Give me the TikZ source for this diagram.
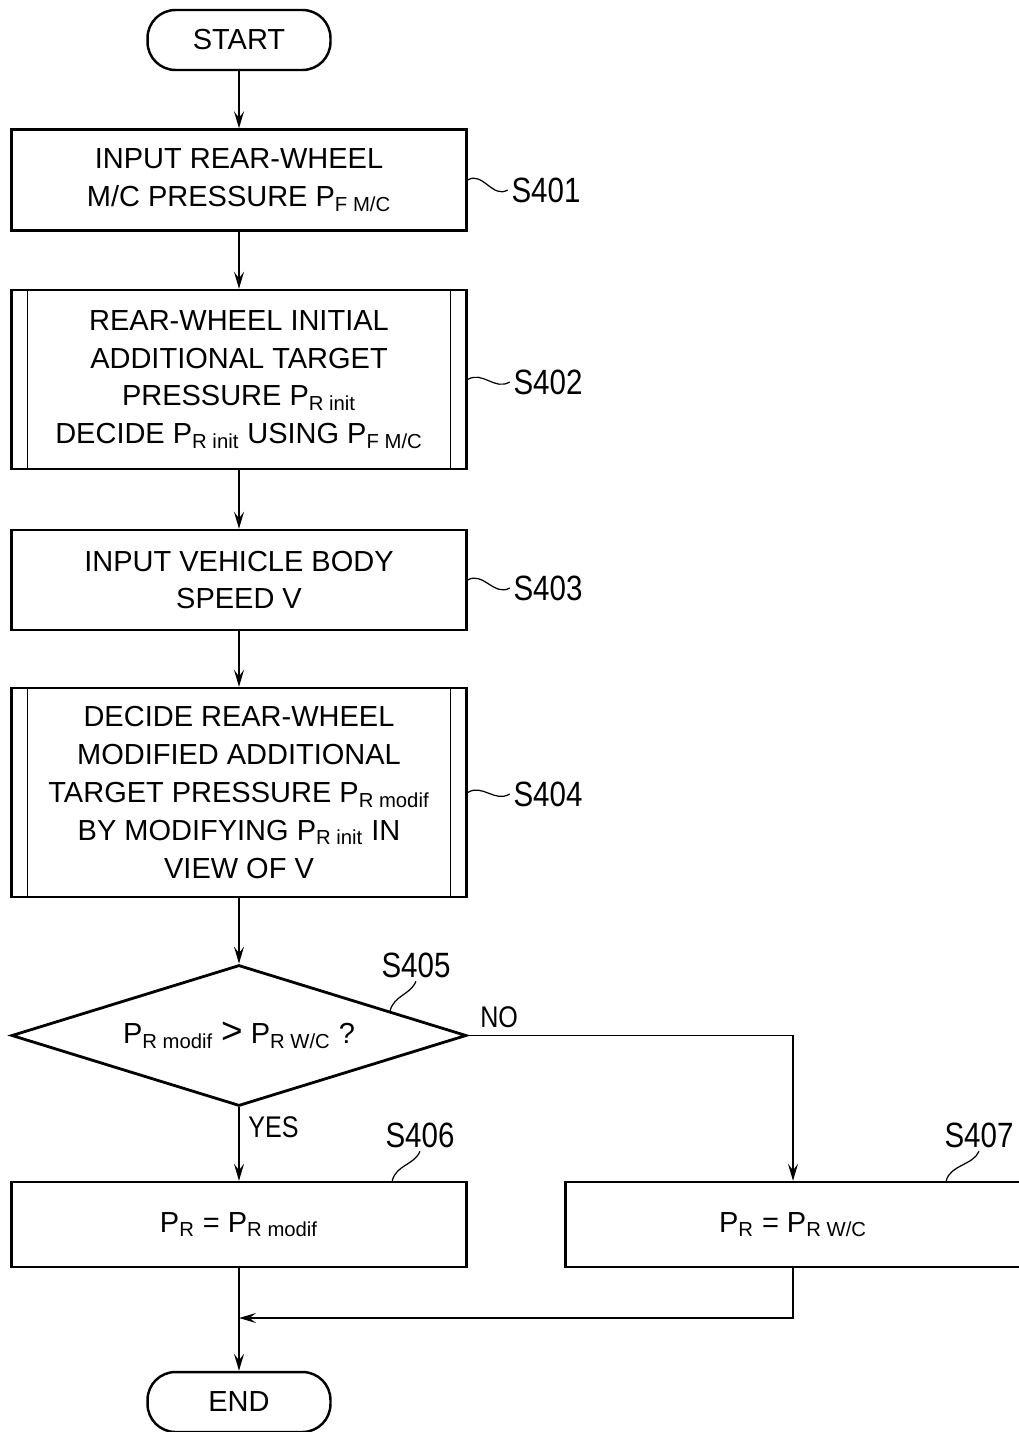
\documentclass[tikz,border=0pt]{standalone}
\usepackage{amsmath}
\usepackage{fontspec}
\setmainfont{Liberation Sans}
\newfontfamily\labfont[FakeStretch=0.84]{Liberation Sans}
\usetikzlibrary{arrows.meta,shapes.geometric,calc}
\newcommand\boxfont{\fontsize{16.5}{21.5}\selectfont}
\newcommand\sbs[1]{$_{\text{#1}}$}
\tikzset{
  base/.style={align=center, inner sep=0pt, font=\boxfont, text=black},
  term/.style={base, draw, line width=1.4pt, rounded corners=0.56cm, minimum width=3.66cm, minimum height=1.2cm},
  proc/.style={base, draw, line width=1.4pt, minimum width=9.1cm},
  subproc/.style={proc, path picture={
    \draw[line width=1pt] ([xshift=0.32cm]path picture bounding box.north west) -- ([xshift=0.32cm]path picture bounding box.south west)
      ([xshift=-0.32cm]path picture bounding box.north east) -- ([xshift=-0.32cm]path picture bounding box.south east);}},
  dec/.style={base, diamond, aspect=3.2, draw, line width=1.6pt, minimum width=9.1cm, minimum height=2.82cm},
  arr/.style={-{Stealth[length=3.4mm,width=2mm,inset=1.3mm]}, line width=0.8pt},
  stp/.style={font=\labfont\fontsize{20}{20}\selectfont, inner sep=2pt},
  yn/.style={font=\labfont\fontsize{17}{17}\selectfont, inner sep=0pt, anchor=west},
  squig/.style={line width=0.7pt},
}
\begin{document}
\begin{tikzpicture}[x=0.02cm, y=-0.02cm]
    \useasboundingbox (0,0) rectangle (1018,1432);
    \node[term] (start) at (239,40) {START};
    \node[proc, minimum height=2.02cm] (s401) at (239,180) {INPUT REAR-WHEEL\\M/C PRESSURE P\sbs{F M/C}};
    \node[subproc, minimum height=3.58cm] (s402) at (239,379.5) {REAR-WHEEL INITIAL\\ADDITIONAL TARGET\\PRESSURE P\sbs{R init}\\DECIDE P\sbs{R init} USING P\sbs{F M/C}};
    \node[proc, minimum height=2cm] (s403) at (239,580) {INPUT VEHICLE BODY\\SPEED V};
    \node[subproc, minimum height=4.18cm] (s404) at (239,792.5) {DECIDE REAR-WHEEL\\MODIFIED ADDITIONAL\\TARGET PRESSURE P\sbs{R modif}\\BY MODIFYING P\sbs{R init} IN\\VIEW OF V};
    \node[dec] (s405) at (239,1035.5) {P\sbs{R modif} {\fontsize{21}{21}\selectfont>} P\sbs{R W/C} ?};
    \node[proc, minimum height=1.7cm] (s406) at (239,1224.5) {P\sbs{R} = P\sbs{R modif}};
    \node[proc, minimum height=1.7cm] (s407) at (793,1224.5) {P\sbs{R} = P\sbs{R W/C}};
    \node[term] (end) at (239,1402) {END};
    \coordinate (mrg) at (239,1318);
    % step numbers
    \node[stp] (l401) at (546,190) {S401};
    \node[stp] (l402) at (548,382) {S402};
    \node[stp] (l403) at (548,588) {S403};
    \node[stp] (l404) at (548,794) {S404};
    \node[stp] (l405) at (416,965) {S405};
    \node[stp] (l406) at (420,1135) {S406};
    \node[stp] (l407) at (979,1135) {S407};
    \foreach \b in {401,402,403,404}
      \draw[squig] (s\b.east) .. controls +(15,-9) and +(-15,9) .. (l\b.west);
    \coordinate (c405) at ($(s405.north)!0.66!(s405.east)$);
    \coordinate (c406) at ($(s406.north west)!0.835!(s406.north east)$);
    \coordinate (c407) at ($(s407.north west)!0.835!(s407.north east)$);
    \foreach \b in {405,406,407}
      \draw[squig] (c\b) .. controls +(4,-16) and +(-6,14) .. (l\b.south);
    % flow
    \foreach \p/\q in {start/s401, s401/s402, s402/s403, s403/s404, s404/s405, s405/s406, s406/end}
      \draw[arr] (\p) -- (\q);
    \draw[arr] (s405.east) -| (s407.north);
    \draw[arr] (s407.south) |- (mrg);
    \node[yn] at (480,1017) {NO};
    \node[yn] at (248,1127) {YES};
\end{tikzpicture}
\end{document}
